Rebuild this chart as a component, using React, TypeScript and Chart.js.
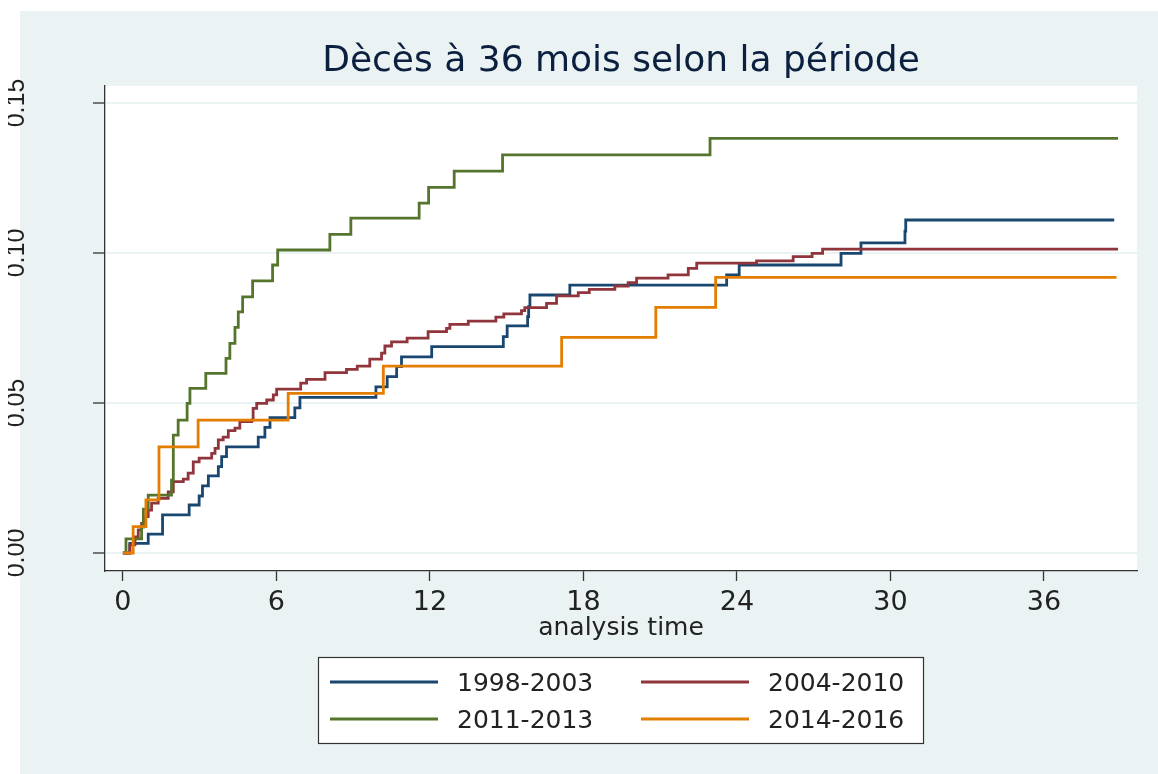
import React, { useEffect, useRef } from "react";
import { Chart, registerables } from "chart.js";

Chart.register(...registerables);

const TITLE = "Dècès à 36 mois selon la période";
const X_TITLE = "analysis time";
const FONT = "'DejaVu Sans', 'Liberation Sans', sans-serif";
const YFONT = "'Liberation Sans', Arial, sans-serif";

const seriesLabels = ["1998-2003", "2004-2010", "2011-2013", "2014-2016"];
const seriesColors = ["#1A476F", "#90353B", "#55752F", "#E37E00"];

// 1998-2003
const tA = [0, 0.27, 0.99, 1.55, 2.59, 2.98, 3.11, 3.34, 3.73, 3.86, 4.05, 5.29, 5.55, 5.75, 6.72, 6.92, 9.89, 10.33, 10.7, 10.89, 12.07, 14.87, 15.02, 15.82, 15.86, 15.91, 17.47, 23.6, 24.09, 28.07, 28.85, 30.57, 30.6, 38.75];
const vA = [0, 0.0032, 0.0063, 0.0127, 0.016, 0.019, 0.0224, 0.0257, 0.0288, 0.0321, 0.0354, 0.0386, 0.0419, 0.0451, 0.0484, 0.0519, 0.0554, 0.0588, 0.0621, 0.0654, 0.0688, 0.0721, 0.0757, 0.0788, 0.0821, 0.086, 0.0893, 0.0927, 0.096, 0.0999, 0.1034, 0.1073, 0.111, 0.111];

// 2004-2010
const tB = [0, 0.27, 0.47, 0.6, 0.73, 0.86, 0.99, 1.12, 1.38, 1.77, 1.97, 2.36, 2.55, 2.75, 2.98, 3.47, 3.6, 3.73, 3.92, 4.12, 4.38, 4.57, 5.03, 5.09, 5.23, 5.62, 5.88, 6.01, 6.95, 7.18, 7.9, 8.74, 9.16, 9.65, 10.11, 10.24, 10.5, 11.11, 11.93, 12.65, 12.78, 13.5, 14.58, 14.89, 15.58, 15.71, 16.56, 16.95, 17.8, 18.23, 19.23, 19.75, 20.08, 21.31, 22.1, 22.43, 24.77, 26.2, 26.94, 27.35, 38.9];
const vB = [0, 0.0027, 0.0054, 0.0077, 0.0099, 0.0121, 0.0143, 0.0166, 0.0182, 0.0204, 0.0238, 0.0246, 0.0266, 0.0304, 0.0316, 0.0332, 0.0349, 0.0377, 0.0386, 0.0408, 0.0416, 0.0438, 0.0443, 0.0482, 0.0499, 0.051, 0.0527, 0.0546, 0.0566, 0.0579, 0.0601, 0.0612, 0.0623, 0.0646, 0.0666, 0.069, 0.0704, 0.0716, 0.0738, 0.0749, 0.0762, 0.0773, 0.0786, 0.0797, 0.0808, 0.0818, 0.0832, 0.0857, 0.0868, 0.0879, 0.089, 0.0901, 0.0916, 0.0927, 0.0949, 0.0966, 0.0974, 0.0988, 0.0999, 0.1013, 0.1013];

// 2011-2013
const tC = [0, 0.12, 0.73, 0.8, 0.99, 1.9, 1.97, 2.16, 2.51, 2.62, 3.24, 4.03, 4.18, 4.38, 4.51, 4.68, 5.07, 5.85, 6.05, 8.09, 8.91, 11.58, 11.95, 12.95, 14.84, 22.95, 38.9];
const vC = [0, 0.0047, 0.0086, 0.0146, 0.0193, 0.0243, 0.0393, 0.0443, 0.0499, 0.0549, 0.0599, 0.0649, 0.0699, 0.0752, 0.0804, 0.0854, 0.0907, 0.096, 0.101, 0.1062, 0.1116, 0.1166, 0.1219, 0.1273, 0.1327, 0.1382, 0.1382];

// 2014-2016
const tD = [0, 0.4, 0.9, 1.41, 2.94, 6.46, 10.18, 17.15, 20.83, 23.17, 38.84];
const vD = [0, 0.0088, 0.0177, 0.0354, 0.0443, 0.0532, 0.0623, 0.0719, 0.0819, 0.0919, 0.0919];

const seriesTimes = [tA, tB, tC, tD];
const seriesValues = [vA, vB, vC, vD];

const xTicks = [0, 6, 12, 18, 24, 30, 36];
const yTicks = [0, 0.05, 0.1, 0.15];
const yTickLabels = ["0.00", "0.05", "0.10", "0.15"];

const BG = "#EAF2F3";
const AXIS = "#333333";
const TEXT = "#222222";

const backgroundPlugin = {
  id: "stataBackground",
  beforeDraw(chart: any) {
    const { ctx, chartArea } = chart;
    ctx.save();
    ctx.fillStyle = BG;
    ctx.fillRect(12, 11, chart.width - 12, chart.height - 11);
    ctx.fillStyle = "#FFFFFF";
    ctx.fillRect(chartArea.left, chartArea.top, chartArea.right - chartArea.left, chartArea.bottom - chartArea.top);
    ctx.restore();
  },
};

const legendPlugin = {
  id: "stataLegend",
  afterDraw(chart: any) {
    const { ctx, chartArea } = chart;
    const xs = chart.scales.x;
    const cx = (chartArea.left + chartArea.right) / 2;
    const boxW = 606;
    const boxH = 87;
    const left = cx - boxW / 2;
    const top = xs.bottom + 16;
    ctx.save();
    ctx.fillStyle = "#FFFFFF";
    ctx.fillRect(left, top, boxW, boxH);
    ctx.strokeStyle = AXIS;
    ctx.lineWidth = 1.2;
    ctx.strokeRect(left + 0.5, top + 0.5, boxW - 1, boxH - 1);
    const colX = [12, 323];
    const rowY = [25, 62];
    ctx.font = `25px ${FONT}`;
    ctx.textBaseline = "middle";
    ctx.textAlign = "left";
    seriesLabels.forEach((label, i) => {
      const col = i % 2;
      const row = Math.floor(i / 2);
      const x0 = left + colX[col];
      const y0 = top + rowY[row];
      ctx.strokeStyle = seriesColors[i];
      ctx.lineWidth = 2.8;
      ctx.beginPath();
      ctx.moveTo(x0, y0);
      ctx.lineTo(x0 + 108, y0);
      ctx.stroke();
      ctx.fillStyle = TEXT;
      ctx.fillText(label, x0 + 127, y0 + 2);
    });
    ctx.restore();
  },
};

export default function App() {
  const canvasRef = useRef<HTMLCanvasElement | null>(null);

  useEffect(() => {
    const canvas = canvasRef.current;
    if (!canvas) return;
    Chart.defaults.font.family = FONT;
    const datasets = seriesLabels.map((label, i) => ({
      label,
      data: seriesTimes[i].map((t, j) => ({ x: t, y: seriesValues[i][j] })),
      borderColor: seriesColors[i],
      backgroundColor: seriesColors[i],
      borderWidth: 2.8,
      pointRadius: 0,
      stepped: "before" as const,
      fill: false,
      order: 4 - i,
    }));

    const chart = new Chart(canvas, {
      type: "line",
      data: { datasets },
      plugins: [backgroundPlugin, legendPlugin],
      options: {
        responsive: false,
        animation: false,
        layout: { padding: { left: 0, right: 21, top: 0, bottom: 133 } },
        plugins: {
          legend: { display: false },
          tooltip: { enabled: false },
          title: {
            display: true,
            text: TITLE,
            fullSize: false,
            color: "#0B1F3F",
            font: { family: FONT, size: 36, weight: "normal", lineHeight: 1 },
            padding: { top: 43.5, bottom: 6.5 },
          },
        },
        scales: {
          x: {
            type: "linear",
            min: -0.7,
            max: 39.64,
            afterBuildTicks: (scale: any) => {
              scale.ticks = xTicks.map((v) => ({ value: v }));
            },
            ticks: {
              font: { family: FONT, size: 27, lineHeight: 1 },
              color: TEXT,
              padding: 8,
              maxRotation: 0,
              minRotation: 0,
              autoSkip: false,
              callback: (v: any) => String(v),
            },
            grid: {
              drawOnChartArea: false,
              drawTicks: true,
              tickLength: 10,
              tickColor: AXIS,
              tickWidth: 1.3,
            },
            border: { display: true, color: AXIS, width: 1.3 },
            title: {
              display: true,
              text: X_TITLE,
              color: TEXT,
              font: { family: FONT, size: 25, lineHeight: 1 },
              padding: { top: -8, bottom: 0 },
            },
          },
          y: {
            type: "linear",
            min: -0.006,
            max: 0.15567,
            afterBuildTicks: (scale: any) => {
              scale.ticks = yTicks.map((v) => ({ value: v }));
            },
            afterFit: (scale: any) => {
              scale.width = 97;
            },
            ticks: {
              font: { family: YFONT, size: 25, lineHeight: 1 },
              color: TEXT,
              padding: 51.5,
              minRotation: 90,
              maxRotation: 90,
              crossAlign: "center",
              autoSkip: false,
              callback: (v: any) => {
                const idx = yTicks.findIndex((t) => Math.abs(t - Number(v)) < 1e-9);
                return idx >= 0 ? yTickLabels[idx] : "";
              },
            },
            grid: {
              color: BG,
              lineWidth: 2,
              drawTicks: true,
              tickLength: 12,
              tickColor: AXIS,
              tickWidth: 1.3,
            },
            border: { display: true, color: AXIS, width: 1.3 },
          },
        },
      } as any,
    });
    return () => chart.destroy();
  }, []);

  return (
    <div style={{ position: "fixed", left: 0, top: 0, width: 1158, height: 774, overflow: "hidden", background: "#FFFFFF" }}>
      <canvas
        ref={canvasRef}
        width={1150}
        height={774}
        style={{ position: "absolute", left: 8, top: 0, width: 1150, height: 774 }}
      />
    </div>
  );
}
